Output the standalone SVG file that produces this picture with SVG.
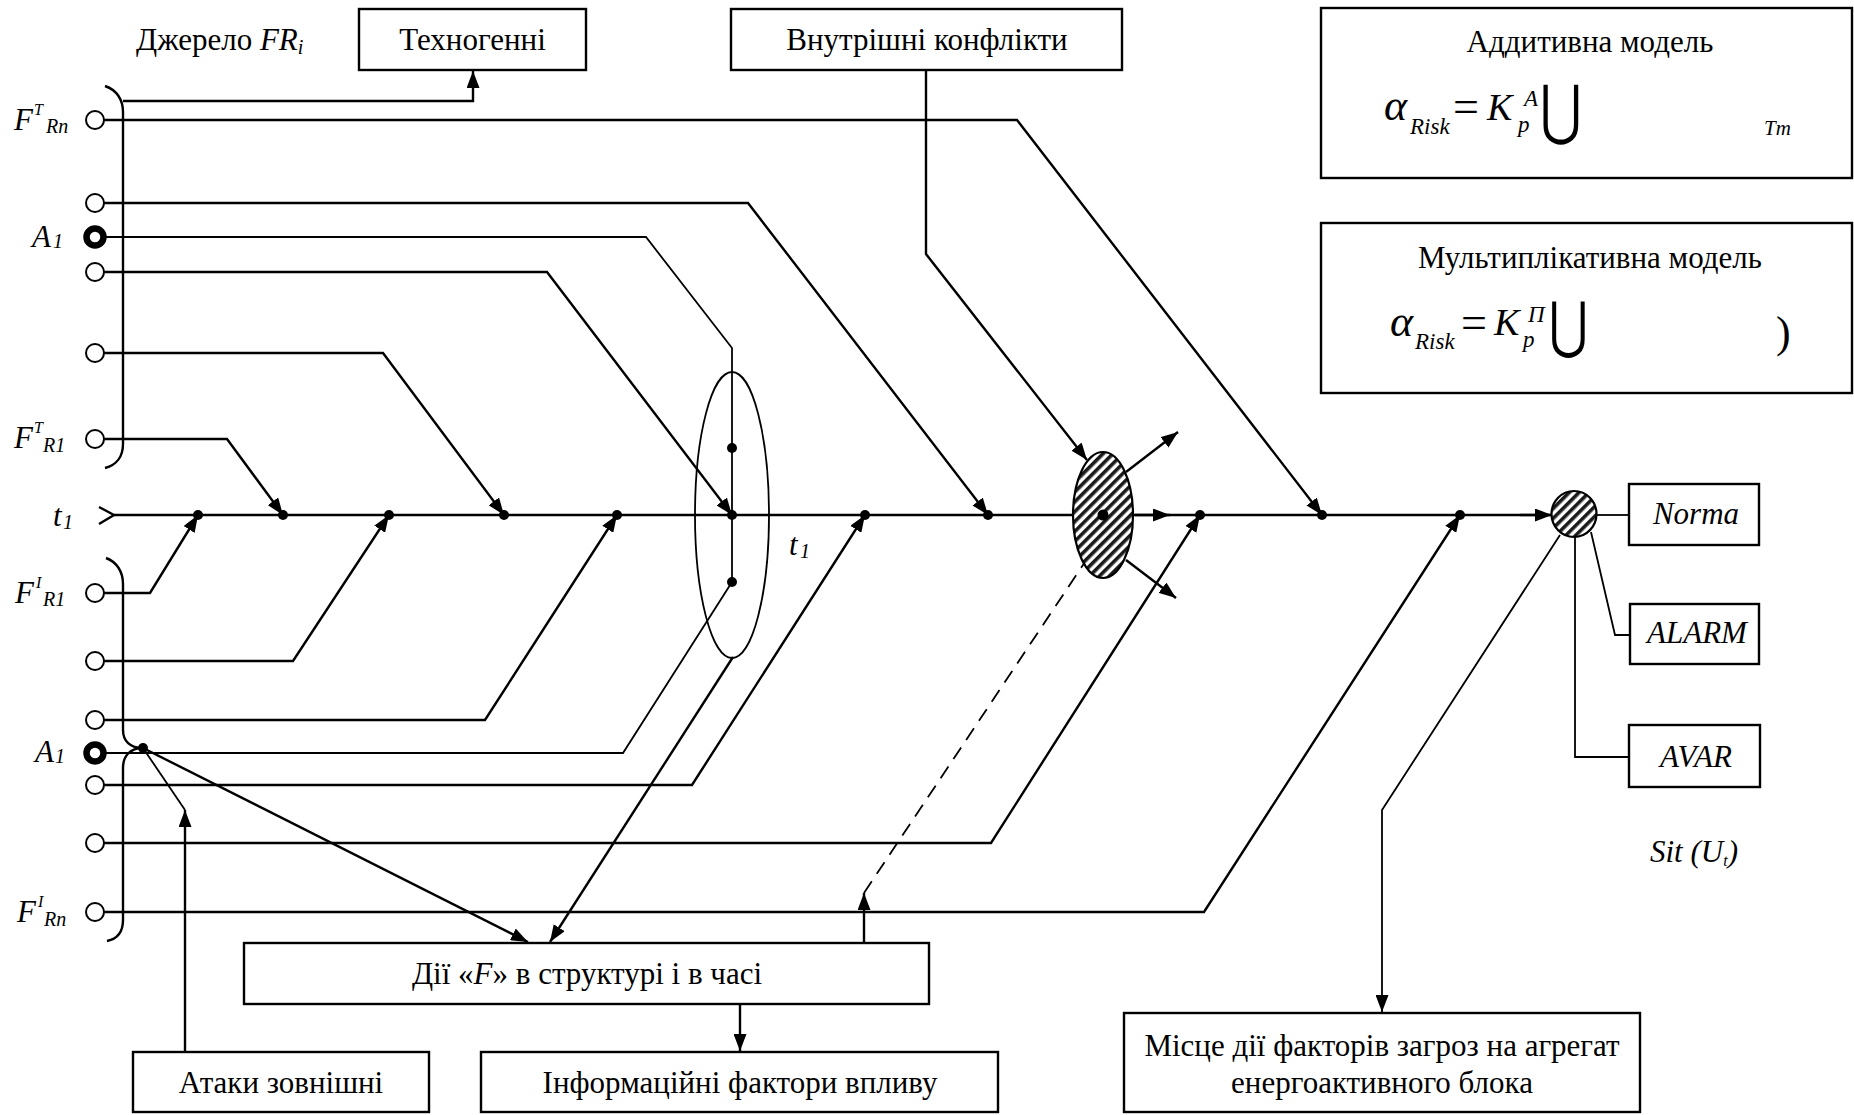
<svg xmlns="http://www.w3.org/2000/svg" width="1854" height="1115" viewBox="0 0 1854 1115">
  <style>
    .ln { fill: none; stroke: #000; stroke-width: 2.4; }
    .th { fill: none; stroke: #000; stroke-width: 1.8; }
    .dash { fill: none; stroke: #000; stroke-width: 1.8; stroke-dasharray: 14 9; }
    .box { fill: #fff; stroke: #000; stroke-width: 2.4; }
    .src { fill: #fff; stroke: #000; stroke-width: 2; }
    .srcb { fill: #fff; stroke: #000; stroke-width: 6.5; }
    .dot { fill: #000; }
    .t { font-family: "Liberation Serif", "Times New Roman", serif; font-size: 31px; fill: #000; }
    .c { text-anchor: middle; }
    .i { font-style: italic; }
    .sm { font-size: 20px; }
    .xs { font-size: 16px; }
    .m-a { font-size: 44px; }
    .m-s { font-size: 23px; }
    .m-eq { font-size: 46px; }
    .m-k { font-size: 38px; }
    .m-u { font-family: "DejaVu Serif", "DejaVu Sans", serif; fill: #000; }
  </style>
  <defs>
    <marker id="ah" markerUnits="userSpaceOnUse" viewBox="0 0 17 13" refX="17" refY="6.5" markerWidth="17" markerHeight="13" orient="auto">
      <path d="M0,0 L17,6.5 L0,13 z" fill="#000"/>
    </marker>
    <pattern id="hatch" width="7" height="7" patternUnits="userSpaceOnUse" patternTransform="rotate(45)">
      <rect width="7" height="7" fill="#fff"/>
      <rect width="3.6" height="7" fill="#1a1a1a"/>
    </pattern>
  </defs>
  <rect width="1854" height="1115" fill="#fff"/>

  <!-- connectors -->
  <g id="connectors">
    <!-- time axis -->
    <polyline class="ln" points="99,507 114,515 99,524"/>
    <line class="ln" x1="114" y1="515" x2="1552" y2="515"/>
    <line class="ln" x1="1135" y1="515" x2="1170" y2="515" marker-end="url(#ah)"/>
    <line class="ln" x1="1520" y1="515" x2="1552" y2="515" marker-end="url(#ah)"/>

    <!-- source brackets -->
    <path class="ln" d="M105,86 C117,90 123,100 123,112 L123,444 C123,456 117,465 105,468"/>
    <path class="ln" d="M106,558 C117,562 123,572 123,584 L123,730 C123,741 130,748 143,748 C130,748 123,756 123,768 L123,920 C123,932 117,939 107,941"/>

    <!-- technogenic sources (upper group) -->
    <polyline class="ln" points="123,101 473,101 473,71" marker-end="url(#ah)"/>
    <polyline class="ln" points="95,120 1017,120 1322,515" marker-end="url(#ah)"/>
    <polyline class="ln" points="95,203 748,203 988,515" marker-end="url(#ah)"/>
    <polyline class="th" points="95,237 646,237 732,348 732,582"/>
    <polyline class="ln" points="95,272 547,272 732,515" marker-end="url(#ah)"/>
    <polyline class="ln" points="95,353 383,353 504,515" marker-end="url(#ah)"/>
    <polyline class="ln" points="95,439 227,439 283,515" marker-end="url(#ah)"/>

    <!-- information sources (lower group) -->
    <polyline class="ln" points="95,593 150,593 198,515" marker-end="url(#ah)"/>
    <polyline class="ln" points="95,661 293,661 389,515" marker-end="url(#ah)"/>
    <polyline class="ln" points="95,720 485,720 617,515" marker-end="url(#ah)"/>
    <polyline class="th" points="95,753 623,753 732,582"/>
    <polyline class="ln" points="95,785 692,785 865,515" marker-end="url(#ah)"/>
    <polyline class="ln" points="95,843 991,843 1200,515" marker-end="url(#ah)"/>
    <polyline class="ln" points="95,912 1204,912 1460,515" marker-end="url(#ah)"/>

    <!-- internal conflicts -->
    <polyline class="ln" points="926,70 926,254 1087,460" marker-end="url(#ah)"/>

    <!-- actions block links -->
    <line class="ln" x1="733" y1="657" x2="550" y2="942" marker-end="url(#ah)"/>
    <line class="ln" x1="143" y1="748" x2="528" y2="942" marker-end="url(#ah)"/>
    <line class="ln" x1="185" y1="1052" x2="185" y2="810" marker-end="url(#ah)"/>
    <line class="th" x1="185" y1="810" x2="143" y2="748"/>
    <line class="ln" x1="740" y1="1004" x2="740" y2="1051" marker-end="url(#ah)"/>
    <line class="ln" x1="864" y1="943" x2="864" y2="893" marker-end="url(#ah)"/>
    <line class="dash" x1="864" y1="893" x2="1085" y2="562"/>

    <!-- outputs of the conflict zone -->
    <line class="ln" x1="1126" y1="472" x2="1178" y2="432" marker-end="url(#ah)"/>
    <line class="ln" x1="1126" y1="560" x2="1176" y2="598" marker-end="url(#ah)"/>

    <!-- situation states -->
    <line class="th" x1="1597" y1="515" x2="1629" y2="515"/>
    <polyline class="th" points="1591,532 1615,635 1630,635"/>
    <polyline class="th" points="1575,537 1575,757 1629,757"/>
    <polyline class="th" points="1560,535 1382,810 1382,1012" marker-end="url(#ah)"/>
  </g>

  <!-- source terminals -->
  <g id="src-FT-Rn">
    <circle class="src" cx="95" cy="120" r="9"/>
    <text class="t i" x="14" y="130">F</text>
    <text class="t i xs" x="34" y="115">T</text>
    <text class="t i sm" x="46" y="133">Rn</text>
  </g>
  <g id="src-T2"><circle class="src" cx="95" cy="203" r="9"/></g>
  <g id="src-A1-top">
    <circle class="srcb" cx="95" cy="237" r="8.5"/>
    <text class="t i" x="32" y="247">A</text>
    <text class="t i sm" x="53" y="248">1</text>
  </g>
  <g id="src-T4"><circle class="src" cx="95" cy="272" r="9"/></g>
  <g id="src-T5"><circle class="src" cx="95" cy="353" r="9"/></g>
  <g id="src-FT-R1">
    <circle class="src" cx="95" cy="439" r="9"/>
    <text class="t i" x="14" y="448">F</text>
    <text class="t i xs" x="34" y="433">T</text>
    <text class="t i sm" x="43" y="452">R1</text>
  </g>
  <g id="src-FI-R1">
    <circle class="src" cx="95" cy="593" r="9"/>
    <text class="t i" x="15" y="603">F</text>
    <text class="t i xs" x="36" y="588">I</text>
    <text class="t i sm" x="43" y="606">R1</text>
  </g>
  <g id="src-I2"><circle class="src" cx="95" cy="661" r="9"/></g>
  <g id="src-I3"><circle class="src" cx="95" cy="720" r="9"/></g>
  <g id="src-A1-bottom">
    <circle class="srcb" cx="95" cy="753" r="8.5"/>
    <text class="t i" x="35" y="762">A</text>
    <text class="t i sm" x="55" y="763">1</text>
  </g>
  <g id="src-I5"><circle class="src" cx="95" cy="785" r="9"/></g>
  <g id="src-I6"><circle class="src" cx="95" cy="843" r="9"/></g>
  <g id="src-FI-Rn">
    <circle class="src" cx="95" cy="912" r="9"/>
    <text class="t i" x="17" y="922">F</text>
    <text class="t i xs" x="38" y="907">I</text>
    <text class="t i sm" x="44" y="926">Rn</text>
  </g>

  <!-- heading of the sources -->
  <g id="sources-title">
    <text class="t" x="136" y="50">Джерело <tspan class="i">FR</tspan><tspan class="i sm" dy="4">i</tspan></text>
  </g>

  <!-- time axis labels -->
  <g id="axis-label-start">
    <text class="t i" x="53" y="526">t</text>
    <text class="t i sm" x="63" y="529">1</text>
  </g>
  <g id="axis-label-mid">
    <text class="t i" x="789" y="555">t</text>
    <text class="t i sm" x="800" y="558">1</text>
  </g>

  <!-- axis junction points -->
  <g id="junctions">
    <circle class="dot" cx="198" cy="515" r="5"/>
    <circle class="dot" cx="283" cy="515" r="5"/>
    <circle class="dot" cx="389" cy="515" r="5"/>
    <circle class="dot" cx="504" cy="515" r="5"/>
    <circle class="dot" cx="617" cy="515" r="5"/>
    <circle class="dot" cx="865" cy="515" r="5"/>
    <circle class="dot" cx="988" cy="515" r="5"/>
    <circle class="dot" cx="1200" cy="515" r="5"/>
    <circle class="dot" cx="1322" cy="515" r="5"/>
    <circle class="dot" cx="1460" cy="515" r="5"/>
    <circle class="dot" cx="143" cy="748" r="5"/>
  </g>

  <!-- combined impact cluster -->
  <g id="cluster">
    <ellipse class="th" cx="732" cy="515" rx="37" ry="143"/>
    <circle class="dot" cx="732" cy="448" r="5"/>
    <circle class="dot" cx="732" cy="515" r="5"/>
    <circle class="dot" cx="732" cy="582" r="5"/>
  </g>

  <!-- conflict zone -->
  <g id="conflict-zone">
    <ellipse cx="1103" cy="515" rx="30" ry="63" fill="url(#hatch)" stroke="#000" stroke-width="2.2"/>
    <circle class="dot" cx="1103" cy="515" r="5.5"/>
  </g>

  <!-- situation node -->
  <g id="situation">
    <ellipse cx="1574" cy="514" rx="22.5" ry="23" fill="url(#hatch)" stroke="#000" stroke-width="2.2"/>
    <text class="t i" x="1650" y="862">Sit (U<tspan class="xs" dy="4">t</tspan><tspan dy="-4">)</tspan></text>
  </g>

  <!-- boxes -->
  <g id="box-technogenic">
    <rect class="box" x="359" y="9" width="227" height="61"/>
    <text class="t c" x="472.5" y="50">Техногенні</text>
  </g>
  <g id="box-internal">
    <rect class="box" x="731" y="9" width="391" height="61"/>
    <text class="t c" x="927" y="50">Внутрішні конфлікти</text>
  </g>
  <g id="box-additive">
    <rect class="box" x="1321" y="8" width="531" height="170"/>
    <text class="t c" x="1590" y="52">Аддитивна модель</text>
    <text class="t i m-a" x="1384" y="120">α</text>
    <text class="t i m-s" x="1410" y="134">Risk</text>
    <text class="t m-eq" x="1453" y="122">=</text>
    <text class="t i m-k" x="1487" y="120">K</text>
    <text class="t i m-s" x="1524" y="106">A</text>
    <text class="t i m-s" x="1518" y="132">p</text>
    <text class="m-u" transform="translate(1540,132) scale(0.77,1)" style="font-size:66px">⋃</text>
    <text class="t i" x="1764" y="135" style="font-size:21px">Tm</text>
  </g>
  <g id="box-multiplicative">
    <rect class="box" x="1321" y="223" width="531" height="170"/>
    <text class="t c" x="1590" y="268">Мультиплікативна модель</text>
    <text class="t i m-a" x="1390" y="336">α</text>
    <text class="t i m-s" x="1415" y="349">Risk</text>
    <text class="t m-eq" x="1461" y="338">=</text>
    <text class="t i m-k" x="1494" y="335">K</text>
    <text class="t i m-s" x="1528" y="322">П</text>
    <text class="t i m-s" x="1523" y="347">p</text>
    <text class="m-u" transform="translate(1549,346) scale(0.77,1)" style="font-size:62px">⋃</text>
    <text class="t" x="1776" y="347" style="font-size:44px">)</text>
  </g>
  <g id="box-norma">
    <rect class="box" x="1629" y="484" width="130" height="61"/>
    <text class="t c i" x="1696" y="524">Norma</text>
  </g>
  <g id="box-alarm">
    <rect class="box" x="1630" y="604" width="129" height="60"/>
    <text class="t c i" x="1697" y="643">ALARM</text>
  </g>
  <g id="box-avar">
    <rect class="box" x="1629" y="725" width="131" height="62"/>
    <text class="t c i" x="1696" y="767">AVAR</text>
  </g>
  <g id="box-actions">
    <rect class="box" x="244" y="943" width="685" height="61"/>
    <text class="t c" x="587" y="984">Дії «<tspan class="i">F</tspan>» в структурі і в часі</text>
  </g>
  <g id="box-attacks">
    <rect class="box" x="133" y="1052" width="296" height="60"/>
    <text class="t c" x="281" y="1093">Атаки зовнішні</text>
  </g>
  <g id="box-info">
    <rect class="box" x="481" y="1052" width="517" height="60"/>
    <text class="t c" x="740" y="1093">Інформаційні фактори впливу</text>
  </g>
  <g id="box-place">
    <rect class="box" x="1124" y="1013" width="516" height="99"/>
    <text class="t c" x="1382" y="1056">Місце дії факторів загроз на агрегат</text>
    <text class="t c" x="1382" y="1093">енергоактивного блока</text>
  </g>
</svg>
